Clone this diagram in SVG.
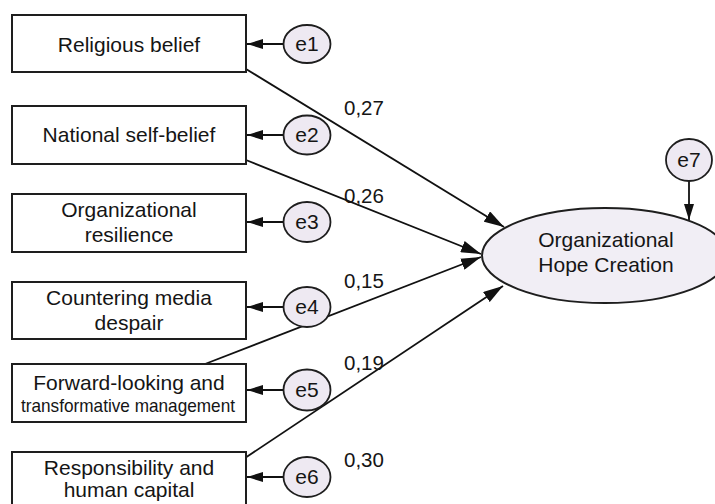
<svg xmlns="http://www.w3.org/2000/svg" width="715" height="504" viewBox="0 0 715 504">
<style>
.box{fill:#ffffff;stroke:#1e1e1e;stroke-width:2}
.err{fill:#eee9f2;stroke:#1e1e1e;stroke-width:1.8}
.t{font-family:"Liberation Sans",Arial,sans-serif;font-size:21px;fill:#151515;text-anchor:middle}
.lab{font-family:"Liberation Sans",Arial,sans-serif;font-size:20.5px;fill:#151515}
.c{stroke:#111;stroke-width:1.8;fill:none}
</style>
<defs>
<marker id="ah" viewBox="0 0 20 12" refX="20" refY="6" markerWidth="20" markerHeight="12" markerUnits="userSpaceOnUse" orient="auto"><path d="M0,0 L20,6 L0,12 z" fill="#111"/></marker>
<marker id="ahs" viewBox="0 0 16 10" refX="16" refY="5" markerWidth="16" markerHeight="10" markerUnits="userSpaceOnUse" orient="auto"><path d="M0,0 L16,5 L0,10 z" fill="#111"/></marker>
</defs>
<rect width="715" height="504" fill="#ffffff"/>
<g id="connectors">
<line class="c" x1="246" y1="69" x2="504" y2="227" marker-end="url(#ah)"/>
<line class="c" x1="246" y1="160" x2="481" y2="254" marker-end="url(#ah)"/>
<line class="c" x1="205" y1="364" x2="481" y2="257" marker-end="url(#ah)"/>
<line class="c" x1="245" y1="458" x2="503" y2="286" marker-end="url(#ah)"/>
<line class="c" x1="283" y1="44" x2="247" y2="44" marker-end="url(#ahs)"/>
<line class="c" x1="283" y1="135" x2="247" y2="135" marker-end="url(#ahs)"/>
<line class="c" x1="283" y1="222" x2="247" y2="222" marker-end="url(#ahs)"/>
<line class="c" x1="283" y1="307" x2="247" y2="307" marker-end="url(#ahs)"/>
<line class="c" x1="283" y1="390" x2="247" y2="390" marker-end="url(#ahs)"/>
<line class="c" x1="283" y1="477" x2="247" y2="477" marker-end="url(#ahs)"/>
<line class="c" x1="689" y1="181" x2="689" y2="220" marker-end="url(#ahs)"/>
<text class="lab" x="344" y="115">0,27</text>
<text class="lab" x="344" y="203">0,26</text>
<text class="lab" x="344" y="288">0,15</text>
<text class="lab" x="344" y="370">0,19</text>
<text class="lab" x="344" y="467">0,30</text>
</g>
<g id="religious"><rect class="box" x="12" y="15" width="234" height="57"/><text class="t" x="129" y="52">Religious belief</text></g>
<g id="national"><rect class="box" x="12" y="106" width="234" height="58"/><text class="t" x="129" y="142">National self-belief</text></g>
<g id="resilience"><rect class="box" x="12" y="194" width="234" height="58"/><text class="t" x="129" y="217">Organizational</text><text class="t" x="129" y="242">resilience</text></g>
<g id="media"><rect class="box" x="12" y="282" width="234" height="57"/><text class="t" x="129" y="305">Countering media</text><text class="t" x="129" y="330">despair</text></g>
<g id="forward"><rect class="box" x="12" y="364" width="234" height="58"/><text class="t" x="129" y="390">Forward-looking and</text><text class="t" x="128" y="412" style="font-size:18.5px" textLength="214" lengthAdjust="spacingAndGlyphs">transformative management</text></g>
<g id="responsibility"><rect class="box" x="12" y="452" width="234" height="58"/><text class="t" x="129" y="475">Responsibility and</text><text class="t" x="129" y="497">human capital</text></g>
<g id="e1"><ellipse class="err" cx="307" cy="44" rx="23.5" ry="19"/><text class="t" x="307" y="51">e1</text></g>
<g id="e2"><ellipse class="err" cx="307" cy="135" rx="23.5" ry="19.5"/><text class="t" x="307" y="142">e2</text></g>
<g id="e3"><ellipse class="err" cx="307" cy="222" rx="23.5" ry="20"/><text class="t" x="307" y="229">e3</text></g>
<g id="e4"><ellipse class="err" cx="307" cy="307" rx="23.5" ry="20"/><text class="t" x="307" y="314">e4</text></g>
<g id="e5"><ellipse class="err" cx="307" cy="390" rx="23.5" ry="20.5"/><text class="t" x="307" y="397">e5</text></g>
<g id="e6"><ellipse class="err" cx="307" cy="477" rx="23.5" ry="20"/><text class="t" x="307" y="484">e6</text></g>
<g id="e7"><ellipse class="err" cx="689" cy="160" rx="23" ry="21"/><text class="t" x="689" y="167">e7</text></g>
<g id="hope"><ellipse cx="605" cy="255.5" rx="123" ry="47.5" fill="#f1eef5" stroke="#1e1e1e" stroke-width="2"/><text class="t" x="606" y="247">Organizational</text><text class="t" x="606" y="272">Hope Creation</text></g>
</svg>
